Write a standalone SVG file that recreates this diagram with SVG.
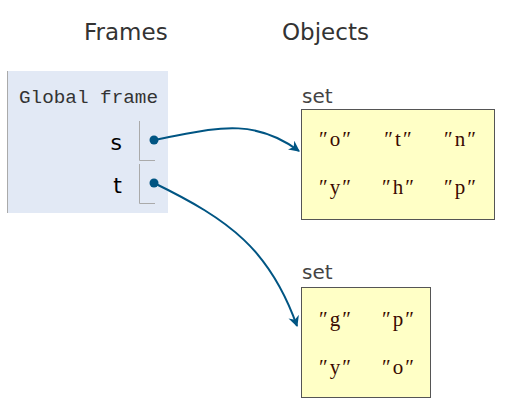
<svg xmlns="http://www.w3.org/2000/svg" width="514" height="420" viewBox="0 0 514 420">
<defs>
<style>
.hdr{font-family:"DejaVu Sans","Liberation Sans",sans-serif;font-size:23px;fill:#333}
.lbl{font-family:"DejaVu Sans","Liberation Sans",sans-serif;font-size:20px;fill:#444}
.var{font-family:"DejaVu Sans","Liberation Sans",sans-serif;font-size:22px;fill:#000}
.mono{font-family:"Liberation Mono","DejaVu Sans Mono",monospace;font-size:19px;fill:#333}
.str{font-family:"Liberation Serif","DejaVu Serif",serif;font-size:21px;fill:#3a0a00;letter-spacing:2px}
.box{fill:#ffffc6;stroke:#555;stroke-width:1}
.slot{fill:none;stroke:#aaa;stroke-width:1}
.conn{fill:none;stroke:#005583;stroke-width:2}
</style>
<marker id="ah" viewBox="0 0 10 10" refX="9" refY="5" markerWidth="11" markerHeight="11" markerUnits="userSpaceOnUse" orient="auto">
<path d="M0,0 L10,5 L0,10 L3,5 z" fill="#005583"/>
</marker>
</defs>
<rect width="514" height="420" fill="#fff"/>
<text class="hdr" x="84" y="40">Frames</text>
<text class="hdr" x="282" y="40">Objects</text>
<g id="global-frame">
<rect x="7" y="71" width="161" height="142" fill="#e2e9f5"/>
<line x1="7.5" y1="71" x2="7.5" y2="213" stroke="#aaa" stroke-width="1"/>
<text class="mono" x="19" y="103" textLength="139" lengthAdjust="spacingAndGlyphs">Global frame</text>
<text class="var" x="122" y="150" text-anchor="end">s</text>
<path class="slot" d="M139.5,121 V160.5 H155"/>
<text class="var" x="122" y="193" text-anchor="end">t</text>
<path class="slot" d="M139.5,164 V203.5 H155"/>
<circle cx="154" cy="140" r="4.5" fill="#005583"/>
<circle cx="154" cy="183" r="4.5" fill="#005583"/>
</g>
<g id="set1">
<text class="lbl" x="302" y="103">set</text>
<rect class="box" x="301.5" y="109.5" width="193" height="110"/>
<text class="str" x="336" y="146" text-anchor="middle">″o″</text>
<text class="str" x="399" y="146" text-anchor="middle">″t″</text>
<text class="str" x="461" y="146" text-anchor="middle">″n″</text>
<text class="str" x="336" y="194" text-anchor="middle">″y″</text>
<text class="str" x="399" y="194" text-anchor="middle">″h″</text>
<text class="str" x="461" y="194" text-anchor="middle">″p″</text>
</g>
<g id="set2">
<text class="lbl" x="302" y="279">set</text>
<rect class="box" x="301.5" y="287.5" width="129" height="110"/>
<text class="str" x="336" y="326" text-anchor="middle">″g″</text>
<text class="str" x="399" y="326" text-anchor="middle">″p″</text>
<text class="str" x="336" y="374" text-anchor="middle">″y″</text>
<text class="str" x="399" y="374" text-anchor="middle">″o″</text>
</g>
<g id="connectors">
<path class="conn" d="M154,140 C210,130 250,115 299,151" marker-end="url(#ah)"/>
<path class="conn" d="M154,183 C230,220 270,250 297,326" marker-end="url(#ah)"/>
</g>
</svg>
